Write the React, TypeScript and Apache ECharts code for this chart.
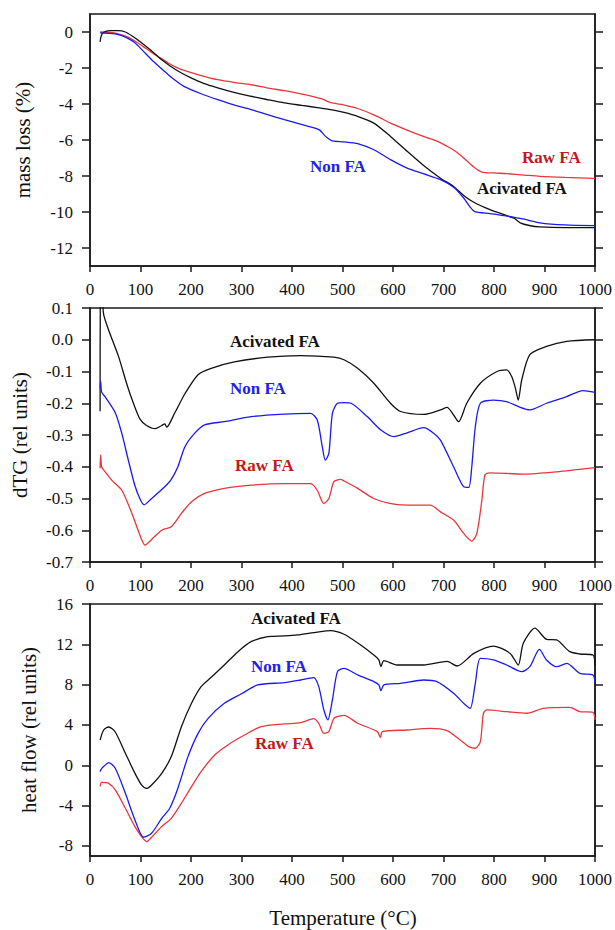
import React, { useEffect, useRef } from "react";
import * as echarts from "echarts";

// Temperature (°C) vs value pairs
const tgRaw: [number, number][] = [[20,0],[40,-0.02],[56,-0.1],[75,-0.28],[89,-0.5],[105,-0.8],[122,-1.13],[140,-1.45],[155,-1.72],[170,-1.95],[188,-2.15],[220,-2.42],[253,-2.65],[285,-2.8],[319,-2.93],[350,-3.1],[385,-3.26],[420,-3.45],[444,-3.6],[460,-3.72],[470,-3.85],[485,-3.97],[500,-4.04],[530,-4.25],[562,-4.6],[595,-5.06],[628,-5.45],[660,-5.8],[690,-6.1],[707,-6.35],[725,-6.65],[740,-7.0],[760,-7.5],[776,-7.78],[800,-7.83],[825,-7.87],[860,-7.95],[891,-8.02],[940,-8.08],[1000,-8.13]];
const tgAct: [number, number][] = [[20,-0.55],[21,-0.35],[24,-0.1],[30,0.02],[40,0.08],[56,0.08],[70,0],[85,-0.25],[100,-0.55],[120,-1.0],[142,-1.54],[170,-2.1],[200,-2.55],[225,-2.85],[253,-3.1],[285,-3.35],[319,-3.57],[350,-3.75],[385,-3.94],[420,-4.08],[450,-4.2],[480,-4.33],[503,-4.47],[530,-4.69],[562,-5.06],[595,-5.8],[628,-6.63],[660,-7.4],[694,-8.12],[720,-8.58],[740,-9.08],[760,-9.46],[792,-9.87],[825,-10.2],[840,-10.35],[852,-10.6],[870,-10.75],[891,-10.83],[940,-10.87],[1000,-10.87]];
const tgNon: [number, number][] = [[20,-0.05],[40,-0.08],[56,-0.15],[75,-0.35],[89,-0.6],[105,-1.05],[122,-1.54],[140,-2.0],[155,-2.37],[172,-2.75],[188,-3.05],[220,-3.43],[253,-3.76],[285,-4.05],[319,-4.31],[350,-4.58],[385,-4.87],[420,-5.15],[444,-5.33],[455,-5.45],[463,-5.7],[470,-5.88],[480,-6.05],[503,-6.1],[530,-6.2],[562,-6.54],[595,-7.09],[628,-7.56],[660,-7.87],[694,-8.2],[720,-8.62],[740,-9.22],[752,-9.7],[762,-9.98],[792,-10.09],[838,-10.28],[860,-10.4],[891,-10.6],[940,-10.72],[1000,-10.76]];

const dtgAct: [number, number][] = [[20,-0.225],[20.5,0.15],[24,0.14],[27,0.08],[37,0.03],[56,-0.05],[73,-0.14],[86,-0.2],[99,-0.25],[112,-0.27],[129,-0.28],[142,-0.27],[148,-0.265],[152,-0.275],[168,-0.23],[188,-0.17],[214,-0.11],[240,-0.09],[286,-0.07],[352,-0.055],[417,-0.05],[483,-0.055],[503,-0.063],[530,-0.09],[562,-0.137],[595,-0.2],[615,-0.226],[661,-0.235],[694,-0.221],[707,-0.213],[720,-0.237],[730,-0.258],[746,-0.2],[773,-0.137],[806,-0.1],[825,-0.095],[835,-0.116],[842,-0.15],[848,-0.19],[855,-0.126],[871,-0.047],[904,-0.021],[944,-0.005],[1000,0.0]];
const dtgNon: [number, number][] = [[20,-0.153],[21,-0.13],[23,-0.165],[30,-0.18],[50,-0.23],[63,-0.295],[76,-0.38],[89,-0.46],[100,-0.505],[107,-0.52],[122,-0.5],[148,-0.463],[161,-0.44],[174,-0.4],[188,-0.337],[207,-0.295],[227,-0.268],[266,-0.258],[319,-0.242],[385,-0.234],[437,-0.232],[450,-0.253],[460,-0.337],[466,-0.379],[473,-0.358],[480,-0.232],[490,-0.2],[503,-0.198],[517,-0.2],[549,-0.242],[576,-0.284],[602,-0.305],[628,-0.293],[661,-0.277],[681,-0.295],[694,-0.316],[720,-0.4],[740,-0.463],[750,-0.465],[756,-0.4],[763,-0.274],[773,-0.2],[799,-0.19],[825,-0.195],[852,-0.213],[871,-0.221],[904,-0.2],[944,-0.179],[976,-0.16],[1000,-0.166]];
const dtgRaw: [number, number][] = [[20,-0.405],[21,-0.363],[23,-0.4],[27,-0.41],[43,-0.442],[63,-0.474],[83,-0.547],[99,-0.616],[109,-0.647],[122,-0.629],[142,-0.6],[161,-0.589],[181,-0.547],[201,-0.51],[227,-0.484],[266,-0.468],[319,-0.458],[385,-0.453],[437,-0.453],[450,-0.474],[463,-0.516],[473,-0.5],[483,-0.447],[496,-0.44],[503,-0.445],[530,-0.468],[562,-0.5],[602,-0.518],[641,-0.521],[674,-0.521],[694,-0.542],[720,-0.568],[740,-0.61],[756,-0.634],[766,-0.61],[776,-0.505],[782,-0.426],[792,-0.419],[858,-0.423],[924,-0.416],[1000,-0.403]];

const hfAct: [number, number][] = [[20,2.5],[27,3.5],[37,3.8],[50,3.3],[70,1.2],[89,-0.8],[102,-1.95],[112,-2.3],[122,-1.95],[142,-0.8],[161,0.86],[181,3.83],[201,6.15],[220,7.8],[240,8.73],[266,9.95],[293,11.27],[319,12.26],[352,12.76],[385,12.83],[411,12.93],[450,13.22],[476,13.36],[503,13.0],[536,11.93],[562,10.94],[572,10.45],[576,9.8],[582,10.38],[608,9.95],[661,9.95],[707,10.3],[727,9.85],[760,11.1],[799,11.83],[832,11.1],[848,9.95],[858,12.1],[881,13.6],[904,12.5],[924,12.43],[950,11.27],[970,11.04],[996,10.94],[1000,9.95]];
const hfNon: [number, number][] = [[20,-0.63],[22,-0.4],[27,-0.13],[37,0.26],[50,-0.3],[70,-2.78],[89,-5.42],[106,-7.14],[122,-6.74],[142,-5.26],[158,-4.26],[174,-2.28],[194,0.86],[214,3.17],[234,4.66],[266,6.15],[299,7.07],[332,7.97],[385,8.2],[417,8.46],[443,8.7],[453,7.8],[463,5.49],[471,4.5],[480,6.48],[490,9.29],[503,9.62],[530,8.96],[562,8.3],[572,7.97],[576,7.4],[582,7.97],[615,8.13],[661,8.46],[687,8.3],[720,7.14],[743,6.0],[753,5.65],[763,8.13],[773,10.6],[799,10.45],[825,9.95],[855,9.29],[871,9.78],[890,11.5],[904,10.45],[924,9.78],[944,10.1],[970,9.12],[996,8.96],[1000,8.13]];
const hfRaw: [number, number][] = [[20,-2.1],[23,-1.7],[37,-1.8],[50,-2.45],[70,-4.26],[89,-6.08],[102,-7.07],[112,-7.57],[122,-7.14],[142,-6.08],[161,-5.26],[181,-3.77],[201,-2.12],[220,-0.63],[247,1.02],[273,2.02],[306,3.0],[339,3.83],[385,4.1],[417,4.23],[443,4.63],[453,4.17],[463,3.17],[473,3.34],[483,4.66],[496,4.9],[503,4.95],[530,4.17],[569,3.34],[575,2.78],[579,3.34],[628,3.5],[674,3.67],[707,3.44],[733,2.51],[750,1.85],[763,1.69],[773,2.35],[779,5.16],[786,5.49],[825,5.32],[865,5.16],[898,5.65],[950,5.75],[970,5.32],[996,5.26],[1000,4.5]];

const tgTicks = [0, -2, -4, -6, -8, -10, -12];
const dtgTicks = [0.1, 0.0, -0.1, -0.2, -0.3, -0.4, -0.5, -0.6, -0.7];
const hfTicks = [-8, -4, 0, 4, 8, 12, 16];
const yNames = ["mass loss (%)", "dTG (rel units)", "heat flow (rel units)"];
const seriesNames = ["Acivated FA", "Non FA", "Raw FA"];

const FONT = "Liberation Serif";
const AX = "#1a1a1a";
const C_BLACK = "#111111";
const C_BLUE = "#1a1af0";
const C_RED = "#e8363a";
const T_RED = "#bf1a20";
const T_BLUE = "#2222e6";

export default function App() {
  const ref = useRef<HTMLDivElement>(null);
  useEffect(() => {
    document.body.style.margin = "0";
    const chart = echarts.init(ref.current!, null, { renderer: "svg" });
    const grids = [
      { left: 90, right: 18, top: 14, height: 252 },
      { left: 90, right: 18, top: 308, height: 254 },
      { left: 90, right: 18, top: 604, height: 252 },
    ];
    const ranges = [
      { min: -13, max: 1, ticks: tgTicks, fmt: (v: number) => String(v), gap: 57 },
      { min: -0.7, max: 0.1, ticks: dtgTicks, fmt: (v: number) => v.toFixed(1), gap: 60 },
      { min: -9, max: 16, ticks: hfTicks, fmt: (v: number) => String(v), gap: 51 },
    ];
    const lineStyleAx = { color: AX, width: 1.5 };
    const xAxis = grids.map((_, i) => ({
      gridIndex: i, type: "value", min: 0, max: 1000, interval: 100,
      axisLine: { show: true, onZero: false, lineStyle: lineStyleAx },
      axisTick: { show: true, inside: false, length: 6, lineStyle: lineStyleAx },
      axisLabel: { fontFamily: FONT, fontSize: 17, color: "#111", margin: 15, formatter: (v: number) => String(v) },
      splitLine: { show: false },
    }));
    const yAxis: any[] = [];
    ranges.forEach((r, i) => {
      yAxis.push({
        gridIndex: i, type: "value", min: r.min, max: r.max, position: "left",
        name: yNames[i], nameLocation: "middle", nameGap: r.gap, nameRotate: 90,
        nameTextStyle: { fontFamily: FONT, fontSize: 21, color: "#111" },
        axisLine: { show: true, onZero: false, lineStyle: lineStyleAx },
        axisTick: { show: true, inside: false, length: 8, customValues: r.ticks, lineStyle: lineStyleAx },
        axisLabel: { fontFamily: FONT, fontSize: 17, color: "#111", margin: 17, customValues: r.ticks, formatter: r.fmt },
        splitLine: { show: false },
      });
      yAxis.push({
        gridIndex: i, type: "value", min: r.min, max: r.max, position: "right",
        axisLine: { show: true, onZero: false, lineStyle: lineStyleAx },
        axisTick: { show: true, inside: false, length: 8, customValues: r.ticks, lineStyle: lineStyleAx },
        axisLabel: { show: false },
        splitLine: { show: false },
      });
    });
    const mk = (name: string, data: [number, number][], color: string, gi: number) => ({
      name, type: "line", data, xAxisIndex: gi, yAxisIndex: gi * 2,
      showSymbol: false, smooth: 0.25, clip: true,
      lineStyle: { color, width: 1.3 }, itemStyle: { color },
    });
    const series = [
      mk(seriesNames[2], tgRaw, C_RED, 0),
      mk(seriesNames[0], tgAct, C_BLACK, 0),
      mk(seriesNames[1], tgNon, C_BLUE, 0),
      mk(seriesNames[2], dtgRaw, C_RED, 1),
      mk(seriesNames[0], dtgAct, C_BLACK, 1),
      mk(seriesNames[1], dtgNon, C_BLUE, 1),
      mk(seriesNames[2], hfRaw, C_RED, 2),
      mk(seriesNames[0], hfAct, C_BLACK, 2),
      mk(seriesNames[1], hfNon, C_BLUE, 2),
    ];
    const lbl = (text: string, x: number, y: number, fill: string) => ({
      type: "text", x, y,
      style: { text, fill, font: `bold 17px "${FONT}"`, textAlign: "left", textVerticalAlign: "middle" },
    });
    chart.setOption({
      animation: false,
      backgroundColor: "#ffffff",
      grid: grids.map((g) => ({ ...g, show: true, borderColor: AX, borderWidth: 1.5, backgroundColor: "transparent" })),
      xAxis, yAxis, series,
      graphic: [
        lbl("Raw FA", 522, 157, T_RED),
        lbl("Acivated FA", 477, 188, C_BLACK),
        lbl("Non FA", 310, 166, T_BLUE),
        lbl("Acivated FA", 230, 341, C_BLACK),
        lbl("Non FA", 230, 388, T_BLUE),
        lbl("Raw FA", 235, 465, T_RED),
        lbl("Acivated FA", 251, 618, C_BLACK),
        lbl("Non FA", 251, 666, T_BLUE),
        lbl("Raw FA", 255, 743, T_RED),
        {
          type: "text", x: 343, y: 918,
          style: { text: "Temperature (°C)", fill: "#111", font: `21px "${FONT}"`, textAlign: "center", textVerticalAlign: "middle" },
        },
      ],
    });
    return () => chart.dispose();
  }, []);
  return <div ref={ref} style={{ position: "absolute", left: 0, top: 0, width: 615, height: 930 }} />;
}
